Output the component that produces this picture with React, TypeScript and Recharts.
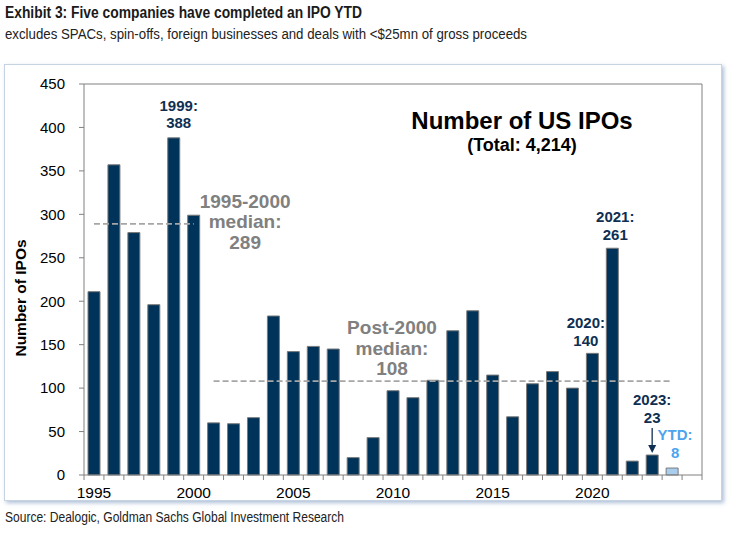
import React from 'react';
import { BarChart, Bar, XAxis, YAxis, Cell, ReferenceLine, ReferenceDot } from 'recharts';

// ---- data ----
const years = [
  1995, 1996, 1997, 1998, 1999, 2000, 2001, 2002, 2003, 2004,
  2005, 2006, 2007, 2008, 2009, 2010, 2011, 2012, 2013, 2014,
  2015, 2016, 2017, 2018, 2019, 2020, 2021, 2022, 2023, 2024,
];
const ipoCounts = [
  211, 357, 279, 196, 388, 299, 60, 59, 66, 183,
  142, 148, 145, 20, 43, 97, 89, 109, 166, 189,
  115, 67, 105, 119, 100, 140, 261, 16, 23, 8,
];
const ytdYear = 2024;
const xLabelTicks = [1995, 2000, 2005, 2010, 2015, 2020];
const yTicks = [0, 50, 100, 150, 200, 250, 300, 350, 400, 450];
const preMedian = 289;
const postMedian = 108;
const preMedianRange = [1995, 2000];
const postMedianRange = [2001, 2024];

const data = years.map((year, i) => ({ year, ipos: ipoCounts[i] }));
const xMin = years[0] - 0.5;
const xMax = years[years.length - 1] + 1.5;
const boundaryTicks = [...years.map((y) => y - 0.5), years[years.length - 1] + 0.5, xMax];

// ---- styles ----
const NAVY = '#003359';
const LIGHT = '#a9cdec';
const GRAY_AXIS = '#808080';
const LABEL_NAVY = '#0f2f52';
const MEDIAN_GRAY = '#808080';
const YTD_BLUE = '#4ea3ee';
const ARIAL = "'Liberation Sans', Arial, sans-serif";

type LabelOpts = { dx: number; dy: number[]; size: number; color: string };

const textShape = (lines: string[], o: LabelOpts) => (props: any) => {
  const { cx, cy } = props;
  if (cx == null || cy == null) return null;
  return (
    <g>
      {lines.map((t, i) => (
        <text
          key={i}
          x={cx + o.dx}
          y={cy + o.dy[i]}
          textAnchor="middle"
          fontFamily={ARIAL}
          fontWeight="bold"
          fontSize={o.size}
          fill={o.color}
        >
          {t}
        </text>
      ))}
    </g>
  );
};

const arrowShape = (props: any) => {
  const { cx, cy } = props;
  if (cx == null || cy == null) return null;
  return (
    <g>
      <line x1={cx} y1={cy - 27} x2={cx} y2={cy - 8} stroke={LABEL_NAVY} strokeWidth={1.3} />
      <polygon points={`${cx - 4},${cy - 10} ${cx + 4},${cy - 10} ${cx},${cy - 2}`} fill={LABEL_NAVY} />
    </g>
  );
};

// Tick marks sit on year boundaries; the year label is centred on the following year's bar.
const YearTick = (props: any) => {
  const { x, y, payload, width } = props;
  const year = payload.value + 0.5;
  if (!xLabelTicks.includes(year)) return <g />;
  const pxPerYear = width / (xMax - xMin);
  return (
    <text
      x={x + pxPerYear * 0.5}
      y={y}
      dy="0.71em"
      textAnchor="middle"
      fontFamily={ARIAL}
      fontSize={15.5}
      fill="#000"
    >
      {year}
    </text>
  );
};

export default function App() {
  return (
    <div style={{ position: 'absolute', left: 0, top: 0, width: 729, height: 533, background: '#fff' }}>
      <div
        style={{
          position: 'absolute',
          left: 4,
          top: 64,
          width: 716,
          height: 435,
          border: '1px solid #c6d3e3',
          boxShadow: '2px 2px 4px rgba(110,140,185,0.55)',
          background: '#fff',
        }}
      />
      <div style={{ position: 'absolute', left: 0, top: 0 }}>
        <BarChart width={729} height={533} data={data} margin={{ top: 84, right: 27, bottom: 28, left: 24 }}>
          <XAxis
            type="number"
            dataKey="year"
            domain={[xMin, xMax]}
            ticks={boundaryTicks}
            interval={0}
            tick={<YearTick />}
            tickSize={5}
            tickMargin={7}
            height={30}
            axisLine={{ stroke: GRAY_AXIS }}
            tickLine={{ stroke: GRAY_AXIS }}
          />
          <YAxis
            domain={[0, 450]}
            ticks={yTicks}
            interval={0}
            width={60}
            tickSize={5}
            tickMargin={14}
            axisLine={{ stroke: GRAY_AXIS }}
            tickLine={{ stroke: GRAY_AXIS }}
            tick={{ fontSize: 15, fontFamily: ARIAL, fill: '#000' }}
          />
          <ReferenceLine y={450} stroke={GRAY_AXIS} />
          <ReferenceLine x={xMax} stroke={GRAY_AXIS} />
          <Bar dataKey="ipos" barSize={12} stroke="#7a7a7a" strokeWidth={1} isAnimationActive={false}>
            {data.map((d) => (
              <Cell key={d.year} fill={d.year === ytdYear ? LIGHT : NAVY} />
            ))}
          </Bar>
          <ReferenceLine
            segment={[{ x: preMedianRange[0], y: preMedian }, { x: preMedianRange[1], y: preMedian }]}
            stroke="#a6a6a6"
            strokeWidth={1.6}
            strokeDasharray="6 3"
          />
          <ReferenceLine
            segment={[{ x: postMedianRange[0], y: postMedian }, { x: postMedianRange[1], y: postMedian }]}
            stroke="#a6a6a6"
            strokeWidth={1.6}
            strokeDasharray="6 3"
          />
          <ReferenceDot x={1999} y={388} r={0}
            shape={textShape(['1999:', '388'], { dx: 5, dy: [-27, -9.5], size: 15, color: LABEL_NAVY })} />
          <ReferenceDot x={2021} y={261} r={0}
            shape={textShape(['2021:', '261'], { dx: 3, dy: [-26, -8], size: 15, color: LABEL_NAVY })} />
          <ReferenceDot x={2020} y={140} r={0}
            shape={textShape(['2020:', '140'], { dx: -6.5, dy: [-25, -7.5], size: 15, color: LABEL_NAVY })} />
          <ReferenceDot x={2023} y={23} r={0}
            shape={textShape(['2023:', '23'], { dx: 0, dy: [-50, -32.5], size: 15, color: LABEL_NAVY })} />
          <ReferenceDot x={2023} y={23} r={0} shape={arrowShape} />
          <ReferenceDot x={ytdYear} y={8} r={0}
            shape={textShape(['YTD:', '8'], { dx: 3, dy: [-28, -10.5], size: 15, color: YTD_BLUE })} />
          <ReferenceDot x={preMedianRange[1]} y={preMedian} r={0}
            shape={textShape(['1995-2000', 'median:', '289'], { dx: 51.5, dy: [-16, 4.5, 25.5], size: 19, color: MEDIAN_GRAY })} />
          <ReferenceDot x={2010} y={postMedian} r={0}
            shape={textShape(['Post-2000', 'median:', '108'], { dx: -1, dy: [-47, -26, -6], size: 19, color: MEDIAN_GRAY })} />
        </BarChart>
      </div>
      <svg width={729} height={533} style={{ position: 'absolute', left: 0, top: 0, pointerEvents: 'none' }}>
        <text x={5} y={17.5} fontFamily={ARIAL} fontWeight="bold" fontSize={16}
          textLength={357} lengthAdjust="spacingAndGlyphs" fill="#1a1a1a">
          Exhibit 3: Five companies have completed an IPO YTD
        </text>
        <text x={5} y={38.5} fontFamily={ARIAL} fontSize={14}
          textLength={522} lengthAdjust="spacingAndGlyphs" fill="#222">
          excludes SPACs, spin-offs, foreign businesses and deals with &lt;$25mn of gross proceeds
        </text>
        <text x={5} y={521.5} fontFamily={ARIAL} fontSize={14}
          textLength={339} lengthAdjust="spacingAndGlyphs" fill="#222">
          Source: Dealogic, Goldman Sachs Global Investment Research
        </text>
        <text x={522} y={128.5} textAnchor="middle" fontFamily={ARIAL} fontWeight="bold" fontSize={24} fill="#000">
          Number of US IPOs
        </text>
        <text x={522} y={150.5} textAnchor="middle" fontFamily={ARIAL} fontWeight="bold" fontSize={18} fill="#000">
          (Total: 4,214)
        </text>
        <text x={26} y={298} transform="rotate(-90 26 298)" textAnchor="middle" fontFamily={ARIAL} fontWeight="bold" fontSize={15.5} fill="#000">
          Number of IPOs
        </text>
      </svg>
    </div>
  );
}
